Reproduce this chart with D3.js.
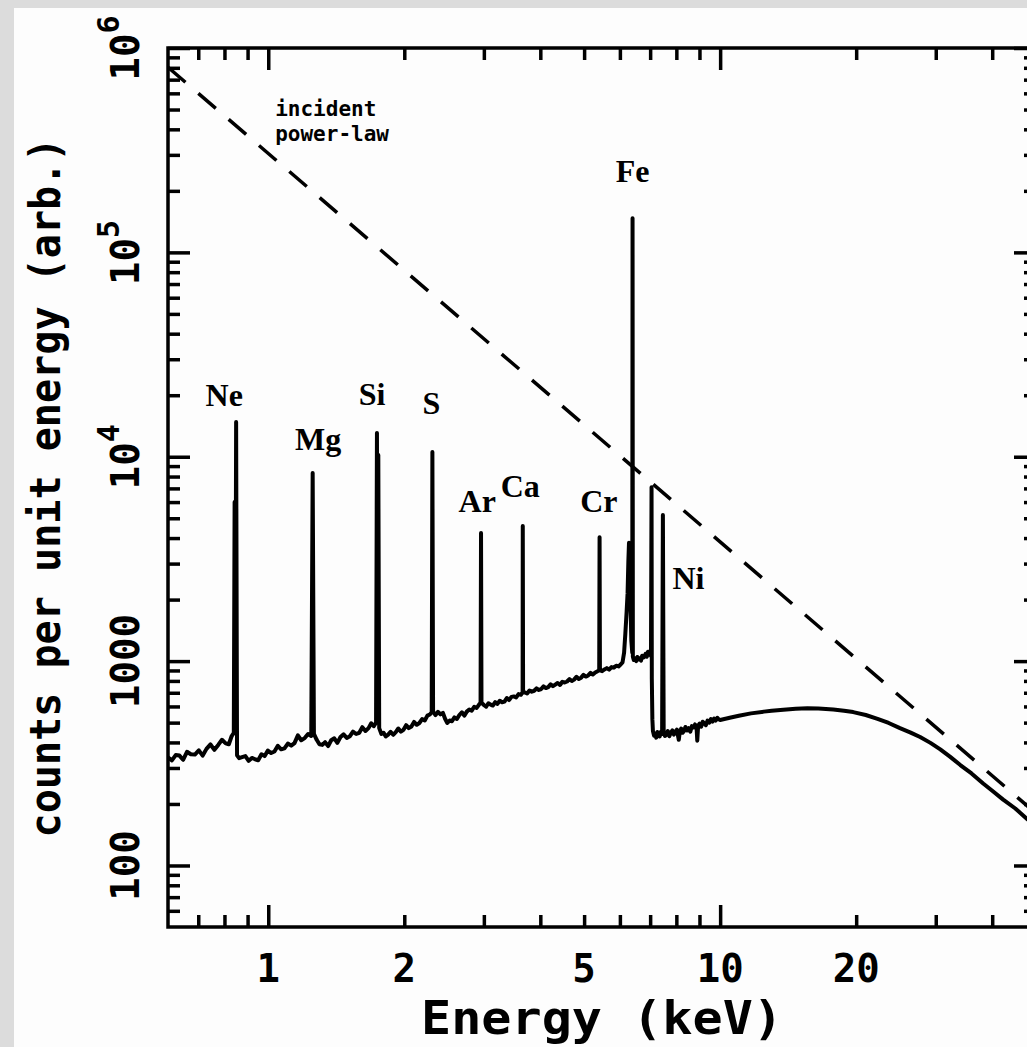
<!DOCTYPE html>
<html>
<head>
<meta charset="utf-8">
<script src="https://cdn.jsdelivr.net/npm/d3@7"></script>
<style>
  body { margin: 0; background: #dcdcdc; }
  svg { display: block; }
</style>
</head>
<body>
<script>
const width = 1027;
const height = 1047;

const margin = {
    left: 168,
    right: -9,
    top: 48,
    bottom: 120
};

// axis ranges and tick labels
const energyDomain = [0.6, 50];
const countsDomain = [50, 1e6];
const xTickLabels = [1, 2, 5, 10, 20];
const yLabelValues = [100, 1000, 1e4, 1e5, 1e6];
const yLabelBase = ["100", "1000", "10", "10", "10"];
const yLabelSup = ["", "", "4", "5", "6"];

// measured spectrum [keV, counts], lines included
const spectrumSoft = [
    [0.600,338],[0.612,327],[0.624,347],[0.636,345],[0.648,329],[0.661,360],[0.674,350],[0.688,349],
    [0.702,366],[0.716,345],[0.730,372],[0.745,391],[0.760,368],[0.775,389],[0.790,412],[0.805,396],
    [0.818,392],[0.830,430],[0.839,445],[0.8425,6000],[0.8455,455],[0.849,14800],[0.853,346],
    [0.862,335],[0.875,339],[0.890,343],[0.905,325],[0.920,336],[0.935,331],[0.950,327],[0.966,350],
    [0.982,343],[0.998,365],[1.015,355],[1.032,361],[1.050,385],[1.068,370],[1.086,374],[1.105,395],
    [1.124,386],[1.143,397],[1.163,433],[1.183,410],[1.204,420],[1.225,440],[1.245,430],[1.254,8320],
    [1.262,440],[1.280,412],[1.298,392],[1.317,389],[1.336,401],[1.357,384],[1.378,410],[1.400,419],
    [1.422,398],[1.445,425],[1.468,438],[1.492,421],[1.516,429],[1.540,452],[1.565,440],[1.590,446],
    [1.615,475],[1.641,455],[1.667,470],[1.690,496],[1.712,480],[1.732,500],[1.740,13060],[1.746,520],
    [1.752,10200],[1.760,470],[1.780,440],[1.800,446],[1.820,428],[1.842,437],[1.865,451],[1.890,436],
    [1.915,449],[1.940,468],[1.966,452],[1.992,461],[2.019,486],[2.046,470],[2.074,479],[2.102,504],
    [2.131,488],[2.160,498],[2.190,520],[2.220,512],[2.250,541],[2.278,548],[2.300,562],[2.308,10550],
    [2.316,566],[2.345,544],[2.375,565],[2.405,549],[2.435,558],[2.462,522],[2.490,498],[2.520,512],
    [2.550,508],[2.582,530],[2.615,521],[2.648,545],[2.682,562],[2.716,541],[2.750,566],[2.785,580],
    [2.820,572],[2.856,598],[2.892,590],[2.925,611],[2.950,626],[2.957,4230],[2.964,626],[3.000,610],
    [3.035,598],[3.070,622],[3.105,612],[3.140,606],[3.178,630],[3.215,618],[3.253,640],[3.292,629],
    [3.332,634],[3.372,660],[3.412,645],[3.453,668],[3.495,672],[3.537,664],[3.580,690],[3.623,684],
    [3.655,703],[3.658,4580],[3.664,705],[3.700,702],[3.740,694],[3.785,718],[3.830,709],[3.876,716],
    [3.923,735],[3.970,722],[4.018,730],[4.066,752],[4.115,738],[4.165,746],[4.215,770],[4.266,754],
    [4.317,768],[4.369,782],[4.422,764],[4.475,792],[4.529,786],[4.584,795],[4.639,816],[4.695,799],
    [4.751,812],[4.808,838],[4.866,818],[4.925,830],[4.984,856],[5.044,840],[5.105,851],[5.166,876],
    [5.228,860],[5.291,880],[5.355,892],[5.400,905],[5.410,4040],[5.420,900],[5.480,893],[5.546,910],
    [5.613,924],[5.680,908],[5.749,935],[5.818,929],[5.888,950],[5.959,942],[6.030,965]
];

const spectrumFe = [
    [6.080,985],[6.130,1100],[6.170,1370],[6.210,1750],[6.240,2150],[6.265,3100],[6.285,3790],
    [6.305,2700],[6.330,2040],[6.360,1260],[6.390,1100],[6.400,147000],[6.410,1050],[6.440,1012],
    [6.480,1035],[6.520,1000],[6.560,1048],[6.600,1018],[6.640,1030],[6.680,1005],[6.720,1062],
    [6.760,1040],[6.800,1052],[6.840,1085],[6.880,1050],[6.920,1110],[6.960,1075],[7.000,1120],
    [7.030,1060],[7.050,7100],[7.060,820],[7.080,520],[7.100,455],[7.140,432],[7.180,441],[7.220,422],
    [7.260,450],[7.300,445],[7.350,428],[7.400,452],[7.440,440],[7.470,5190],[7.500,446]
];

const spectrumHard = [
    [7.550,430],[7.600,436],[7.660,455],[7.720,429],[7.780,447],[7.840,458],[7.900,437],[7.960,452],
    [8.020,462],[8.100,412],[8.140,450],[8.200,468],[8.260,446],[8.320,455],[8.380,476],[8.450,458],
    [8.520,470],[8.590,452],[8.660,481],[8.730,474],[8.800,490],[8.870,468],[8.900,408],[8.940,483],
    [9.010,495],[9.080,478],[9.150,505],[9.220,498],[9.300,486],[9.380,512],[9.460,500],[9.540,520],
    [9.620,506],[9.700,524],[9.780,512],[9.860,528],[9.940,518],[10.00,515],[10.50,528],[11.00,540],
    [11.70,555],[12.50,566],[13.00,572],[13.80,578],[14.70,584],[15.60,588],[16.50,587],[17.80,580],
    [18.80,572],[19.70,563],[21.00,545],[22.30,522],[23.60,498],[25.00,470],[26.40,447],[27.70,425],
    [29.20,398],[30.70,370],[32.30,340],[34.00,310],[36.00,282],[38.20,252],[40.20,230],[42.30,210],
    [45.00,190],[47.90,168],[50.00,157]
];

// incident power-law (end points)
const powerLawEnergy = [0.6, 50];
const powerLawCounts = [805000, 180];

// line labels
const lineNames = ["Ne", "Mg", "Si", "S", "Ar", "Ca", "Cr", "Fe", "Ni"];
const labelEnergy = [0.799, 1.289, 1.697, 2.295, 2.90, 3.61, 5.39, 6.40, 8.51];
const labelCounts = [17700, 10800, 17900, 16200, 5360, 6350, 5360, 221000, 2250];

const noteLines = ["incident", "power-law"];
const noteEnergy = 1.036;
const noteCounts = [464000, 350000];

const monoFont = "'DejaVu Sans Mono', monospace";
const serifFont = "'Liberation Serif', serif";

let svg = d3.select("body").append("svg")
    .attr("width", width)
    .attr("height", height);

svg.append("rect")
    .attr("x", 14).attr("y", 8)
    .attr("width", width - 14).attr("height", height - 8)
    .attr("fill", "#fdfdfd");

let xScale = d3.scaleLog()
    .domain(energyDomain)
    .range([margin.left, width - margin.right]);

let yScale = d3.scaleLog()
    .domain(countsDomain)
    .range([height - margin.bottom, margin.top]);

const x0 = xScale.range()[0], x1 = xScale.range()[1];
const y0 = yScale.range()[0], y1 = yScale.range()[1];

const isDecade = d => Math.abs(Math.log10(d) - Math.round(Math.log10(d))) < 1e-6;
const xTicks = xScale.ticks().filter(d => d > energyDomain[0] * 1.001 && d < energyDomain[1] * 0.999);
const yTicks = yScale.ticks().filter(d => d > countsDomain[0] * 1.001 && d < countsDomain[1] * 0.999);

svg.append("clipPath").attr("id", "plot")
    .append("rect")
    .attr("x", x0).attr("y", y1)
    .attr("width", x1 - x0).attr("height", y0 - y1);

function styleTicks(g, attr, sign) {
    g.select(".domain").remove();
    g.selectAll(".tick line")
        .attr(attr, d => sign * (isDecade(d) ? 22 : 12))
        .attr("stroke", "#000")
        .attr("stroke-width", 3.5);
}

svg.append("g")
    .attr("transform", `translate(0,${y0})`)
    .call(d3.axisBottom(xScale).tickValues(xTicks).tickFormat(""))
    .call(g => styleTicks(g, "y2", -1));

svg.append("g")
    .attr("transform", `translate(0,${y1})`)
    .call(d3.axisTop(xScale).tickValues(xTicks).tickFormat(""))
    .call(g => styleTicks(g, "y2", 1));

svg.append("g")
    .attr("transform", `translate(${x0},0)`)
    .call(d3.axisLeft(yScale).tickValues(yTicks.concat([countsDomain[1]])).tickFormat(""))
    .call(g => styleTicks(g, "x2", 1));

svg.append("g")
    .attr("transform", `translate(${x1},0)`)
    .call(d3.axisRight(yScale).tickValues(yTicks.concat([countsDomain[1]])).tickFormat(""))
    .call(g => styleTicks(g, "x2", -1));

// frame
svg.append("rect")
    .attr("x", x0).attr("y", y1)
    .attr("width", x1 - x0).attr("height", y0 - y1)
    .attr("fill", "none")
    .attr("stroke", "#000")
    .attr("stroke-width", 3.5);

// x tick labels
svg.selectAll(".xlab")
    .data(xTickLabels)
    .join("text")
    .attr("class", "xlab")
    .attr("x", d => xScale(d))
    .attr("y", y0 + 55)
    .attr("text-anchor", "middle")
    .style("font-family", monoFont)
    .style("font-weight", "bold")
    .style("font-size", "39px")
    .text(d => d);

// y tick labels (rotated, with exponents)
let yLab = svg.selectAll(".ylab")
    .data(yLabelValues)
    .join("text")
    .attr("class", "ylab")
    .attr("transform", d => `translate(${x0 - 29},${yScale(d)}) rotate(-90)`)
    .attr("text-anchor", "middle")
    .style("font-family", monoFont)
    .style("font-weight", "bold")
    .style("font-size", "39px");

yLab.append("tspan").text((d, i) => yLabelBase[i]);
yLab.append("tspan")
    .attr("dy", -20)
    .style("font-size", "30px")
    .text((d, i) => yLabelSup[i]);

// axis titles
svg.append("text")
    .attr("x", (x0 + x1) / 2)
    .attr("y", 1034)
    .attr("text-anchor", "middle")
    .style("font-family", monoFont)
    .style("font-weight", "bold")
    .style("font-size", "46px")
    .attr("textLength", 362)
    .attr("lengthAdjust", "spacingAndGlyphs")
    .text("Energy (keV)");

svg.append("text")
    .attr("transform", `translate(60,${(y0 + y1) / 2}) rotate(-90)`)
    .attr("text-anchor", "middle")
    .style("font-family", monoFont)
    .style("font-weight", "bold")
    .style("font-size", "42px")
    .attr("textLength", 700)
    .attr("lengthAdjust", "spacingAndGlyphs")
    .text("counts per unit energy (arb.)");

// curves
let line = d3.line()
    .x(d => xScale(d[0]))
    .y(d => yScale(d[1]));

let plot = svg.append("g").attr("clip-path", "url(#plot)");

plot.append("path")
    .datum(d3.zip(powerLawEnergy, powerLawCounts))
    .attr("d", line)
    .attr("fill", "none")
    .attr("stroke", "#000")
    .attr("stroke-width", 3.5)
    .attr("stroke-dasharray", "23,17");

plot.append("path")
    .datum(spectrumSoft.concat(spectrumFe, spectrumHard))
    .attr("d", line)
    .attr("fill", "none")
    .attr("stroke", "#000")
    .attr("stroke-width", 4)
    .attr("stroke-linejoin", "round");

// element labels
svg.selectAll(".elem")
    .data(lineNames)
    .join("text")
    .attr("class", "elem")
    .attr("x", (d, i) => xScale(labelEnergy[i]))
    .attr("y", (d, i) => yScale(labelCounts[i]))
    .attr("text-anchor", "middle")
    .style("font-family", serifFont)
    .style("font-weight", "bold")
    .style("font-size", "32px")
    .text(d => d);

svg.selectAll(".note")
    .data(noteLines)
    .join("text")
    .attr("class", "note")
    .attr("x", xScale(noteEnergy))
    .attr("y", (d, i) => yScale(noteCounts[i]))
    .style("font-family", monoFont)
    .style("font-weight", "bold")
    .style("font-size", "21px")
    .text(d => d);
</script>
</body>
</html>
